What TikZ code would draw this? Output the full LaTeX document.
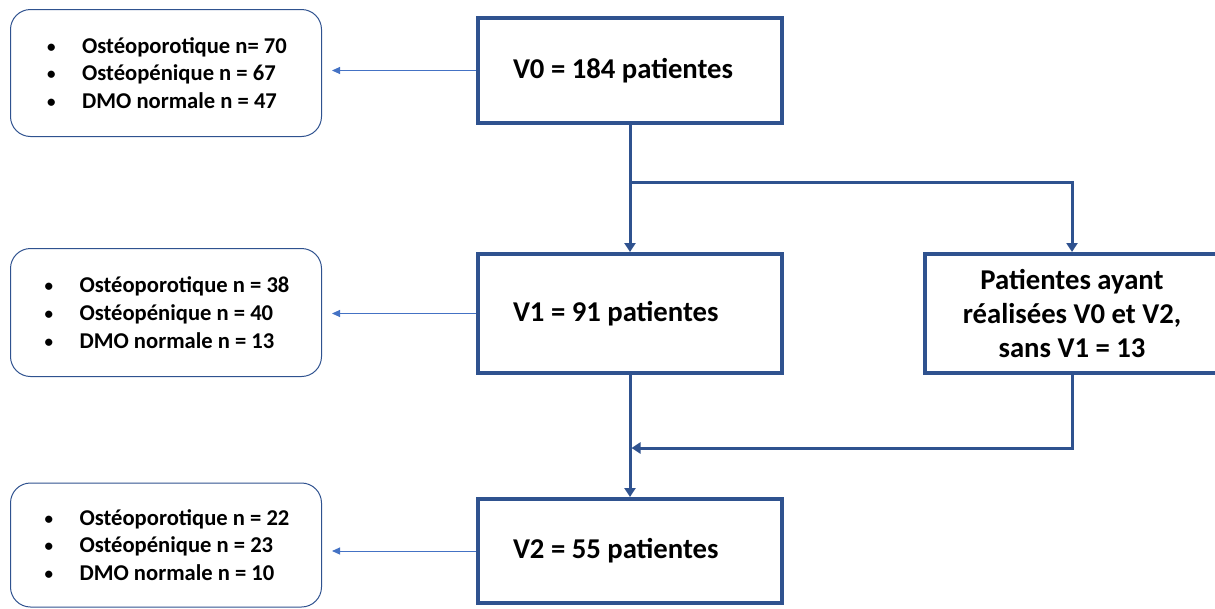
\documentclass[tikz,border=0pt]{standalone}
\usepackage{fontspec}
\setmainfont{Carlito}
\usetikzlibrary{positioning, arrows.meta}
\definecolor{bordbleu}{HTML}{2F528F}
\definecolor{flechebleu}{HTML}{4472C4}
\newcommand{\puce}{\hspace*{2pt}\makebox[35pt][l]{\raisebox{1pt}{\fontsize{17}{17}\selectfont\textbullet}}}
\newcommand{\effectif}[1]{\makebox[234pt][l]{#1}}

\begin{document}
\begin{tikzpicture}[
        >={Triangle[width=11pt, length=9pt]},
        yscale=-1,
        x=1pt,
        y=1pt,
        every node/.style={font=\bfseries},
        visite/.style={draw=bordbleu, line width=4pt,
            font=\fontsize{28.7}{34}\selectfont\bfseries},
        gauche/.style={inner xsep=35pt},
        bilan/.style={draw=bordbleu, line width=1pt, rounded corners=20pt,
            minimum width=311pt, align=left,
            font=\fontsize{22.6}{27.8}\selectfont\bfseries},
        lien/.style={->, draw=bordbleu, line width=3pt},
        renvoi/.style={-{Triangle[width=7pt, length=8pt]}, draw=flechebleu,
            line width=1pt, shorten >=10pt}
    ]
    \useasboundingbox (0,0) rectangle (1215,608);

    \node[visite, gauche, minimum height=105pt] (v0) at (630,70.5) {\effectif{V0 = 184 patientes}};
    \node[visite, gauche, minimum height=119pt] (v1) at (630,313.5) {\effectif{V1 = 91 patientes}};
    \node[visite, gauche, minimum height=104pt] (v2) at (630,551) {\effectif{V2 = 55 patientes}};
    \node[visite, align=center, minimum width=294pt, minimum height=119pt] (sansv1) at (1072,313.5) {
            Patientes ayant\\réalisées V0 et V2,\\sans V1 = 13
        };

    \node[bilan, minimum height=127pt] (bilan0) at (166,73) {
            \puce Ostéoporotique n= 70\\
            \puce Ostéopénique n = 67\\
            \puce DMO normale n = 47
        };
    \node[bilan, minimum height=128pt] (bilan1) at (166,312.5) {
            \puce Ostéoporotique n = 38\\
            \puce Ostéopénique n = 40\\
            \puce DMO normale n = 13
        };
    \node[bilan, minimum height=124pt] (bilan2) at (166,545) {
            \puce Ostéoporotique n = 22\\
            \puce Ostéopénique n = 23\\
            \puce DMO normale n = 10
        };

    \coordinate (fourche) at (630,182);
    \coordinate (jonction) at (631.5,448);

    \draw[lien] (v0) -- (v1);
    \draw[lien] (fourche) -| (sansv1);
    \draw[lien] (v1) -- (v2);
    \draw[lien] (sansv1) |- (jonction);

    \draw[renvoi] (v0.west) -- (v0.west -| bilan0.east);
    \draw[renvoi] (v1.west) -- (v1.west -| bilan1.east);
    \draw[renvoi] (v2.west) -- (v2.west -| bilan2.east);
\end{tikzpicture}
\end{document}
